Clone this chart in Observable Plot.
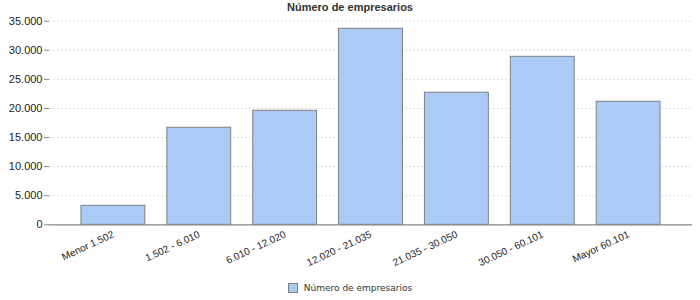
<!DOCTYPE html>
<html>
<head>
<meta charset="utf-8">
<script src="https://cdn.jsdelivr.net/npm/d3@7"></script>
<script src="https://cdn.jsdelivr.net/npm/@observablehq/plot@0.6"></script>
<style>
  body { margin: 0; background: #fff; width: 700px; height: 300px; overflow: hidden; font-family: "Liberation Sans", Arial, sans-serif; }
  #title { height: 14px; line-height: 14px; text-align: center; font-weight: bold; font-size: 11px; color: #333; }
  #legend { height: 24px; display: flex; align-items: center; justify-content: center; font-family: "DejaVu Sans", sans-serif; font-size: 9px; color: #333; }
  #legend .sw { width: 8px; height: 8px; background: #a9cbf5; border: 1px solid #808080; margin-right: 6px; }
  svg { display: block; }
</style>
</head>
<body>
<div id="title"></div>
<div id="chart"></div>
<div id="legend"></div>
<script>
const categories = ["Menor 1.502", "1.502 - 6.010", "6.010 - 12.020", "12.020 - 21.035", "21.035 - 30.050", "30.050 - 60.101", "Mayor 60.101"];
const values = [3270, 16680, 19600, 33700, 22700, 28880, 21150];
const yTicks = [0, 5000, 10000, 15000, 20000, 25000, 30000, 35000];
const seriesName = "Número de empresarios";
const titleText = "Número de empresarios";

const data = categories.map((c, i) => ({category: c, value: values[i]}));
const fmt = d => d3.format(",")(d).replace(/,/g, ".");

document.getElementById("title").textContent = titleText;
document.getElementById("legend").innerHTML = '<div class="sw"></div><span></span>';
document.querySelector("#legend span").textContent = seriesName;

const chart = Plot.plot({
  width: 700,
  height: 262,
  marginLeft: 49,
  marginRight: 8,
  marginTop: 6.7,
  marginBottom: 51.7,
  style: {fontFamily: "'Liberation Sans', Arial, sans-serif", color: "#333", background: "#fff"},
  x: {domain: categories, paddingInner: 0.256, paddingOuter: 0.372, round: false, label: null},
  y: {domain: [0, 35000], label: null},
  marks: [
    Plot.gridY(yTicks, {stroke: "#dcdcdc", strokeOpacity: 1, strokeDasharray: "2,2"}),
    Plot.barY(data, {x: "category", y: "value", fill: "#a9cbf5", stroke: "#808080", strokeWidth: 1}),
    Plot.ruleY([0], {stroke: "#888", strokeWidth: 1.2}),
    Plot.axisY(yTicks, {tickFormat: fmt, tickSize: 5, tickPadding: 2, fontSize: 11, stroke: "#888", fill: "#222", label: null}),
    Plot.axisX({tickSize: 0, tickRotate: -25, tickPadding: 9, fontSize: 10, fill: "#222", label: null})
  ]
});
document.getElementById("chart").appendChild(chart);
</script>
</body>
</html>
